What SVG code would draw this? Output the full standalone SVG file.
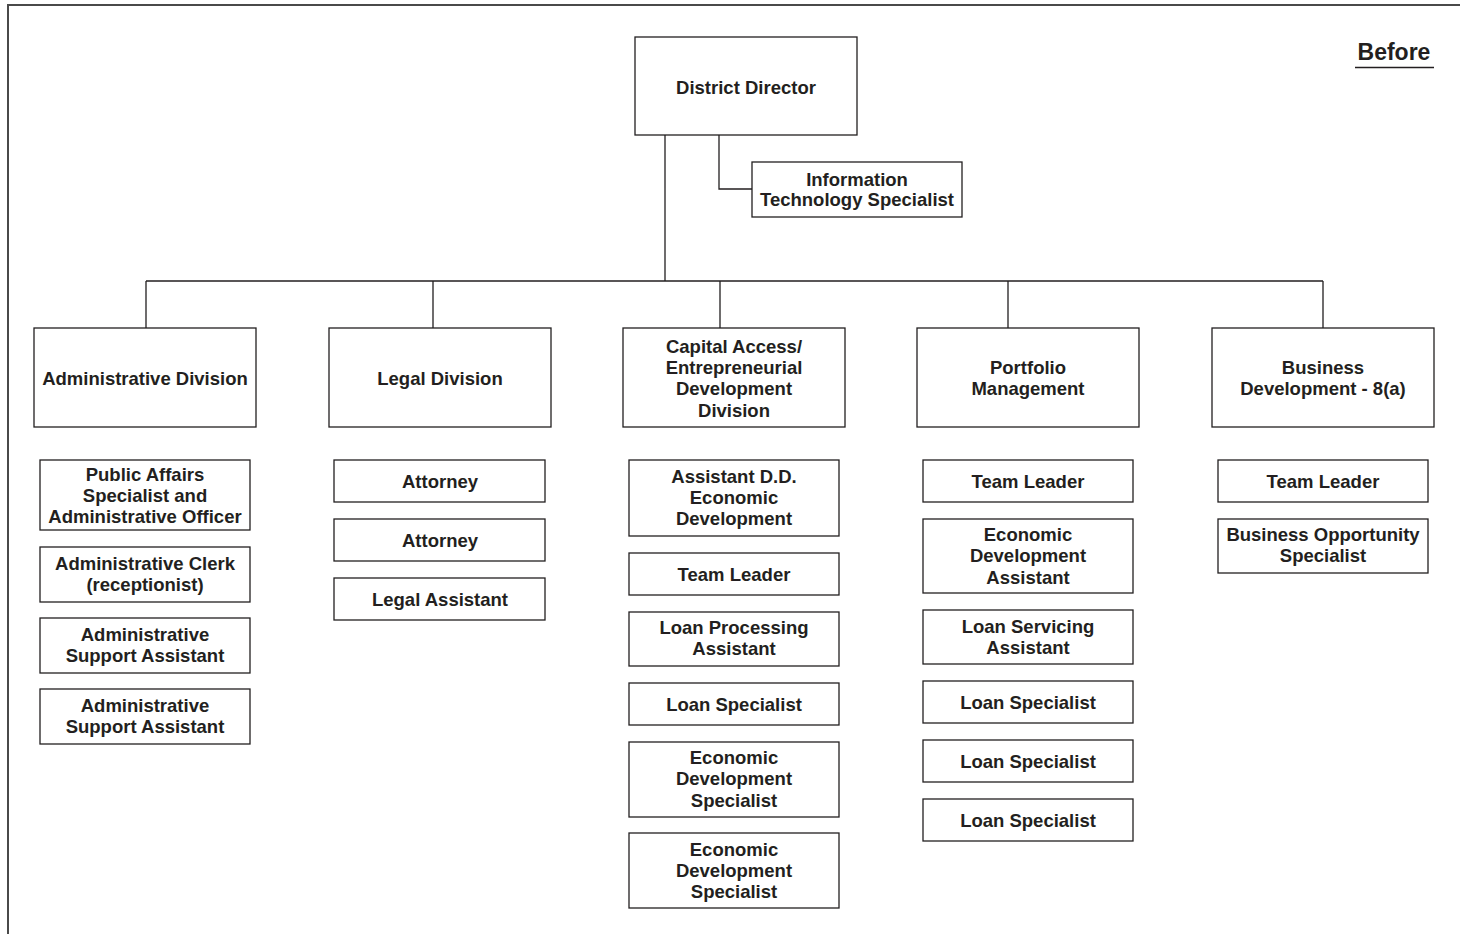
<svg xmlns="http://www.w3.org/2000/svg" width="1468" height="934" viewBox="0 0 1468 934">
<style>
.box{fill:#fff;stroke:#231f20;stroke-width:1.3}
.ln{fill:none;stroke:#231f20;stroke-width:1.3}
text{font-family:"Liberation Sans",Arial,sans-serif;font-weight:bold;font-size:18.5px;fill:#231f20;text-anchor:middle}
</style>
<rect width="1468" height="934" fill="#fff"/>
<g id="frame"><path d="M8,934 V5 H1460" fill="none" stroke="#4a4a4a" stroke-width="2"/></g>
<g id="title"><text x="1394" y="60" style="font-size:23px">Before</text><line x1="1355" y1="67.5" x2="1434" y2="67.5" stroke="#231f20" stroke-width="1.5"/></g>
<g id="connectors">
<path class="ln" d="M665,135 V281 M146,281 H1323 M146,281 V328 M433,281 V328 M720,281 V328 M1008,281 V328 M1323,281 V328 M719,135 V189 H752"/>
</g>
<g id="district-director"><rect class="box" x="635" y="37" width="222" height="98"/><text x="746" y="93.5">District Director</text></g>
<g id="it-specialist"><rect class="box" x="752" y="162" width="210" height="55"/><text x="857" y="185.5">Information</text><text x="857" y="206">Technology Specialist</text></g>
<g id="admin-division"><rect class="box" x="34" y="328" width="222" height="99"/><text x="145" y="384.5">Administrative Division</text></g>
<g id="legal-division"><rect class="box" x="329" y="328" width="222" height="99"/><text x="440" y="384.5">Legal Division</text></g>
<g id="capital-division"><rect class="box" x="623" y="328" width="222" height="99"/><text x="734" y="352.5">Capital Access/</text><text x="734" y="373.5">Entrepreneurial</text><text x="734" y="395">Development</text><text x="734" y="416.5">Division</text></g>
<g id="portfolio-division"><rect class="box" x="917" y="328" width="222" height="99"/><text x="1028" y="373.5">Portfolio</text><text x="1028" y="395">Management</text></g>
<g id="business-division"><rect class="box" x="1212" y="328" width="222" height="99"/><text x="1323" y="373.5">Business</text><text x="1323" y="395">Development - 8(a)</text></g>
<g id="admin-1"><rect class="box" x="40" y="460" width="210" height="70"/><text x="145" y="480.5">Public Affairs</text><text x="145" y="501.5">Specialist and</text><text x="145" y="523">Administrative Officer</text></g>
<g id="admin-2"><rect class="box" x="40" y="547" width="210" height="55"/><text x="145" y="569.5">Administrative Clerk</text><text x="145" y="590.5">(receptionist)</text></g>
<g id="admin-3"><rect class="box" x="40" y="618" width="210" height="55"/><text x="145" y="640.5">Administrative</text><text x="145" y="662">Support Assistant</text></g>
<g id="admin-4"><rect class="box" x="40" y="689" width="210" height="55"/><text x="145" y="711.5">Administrative</text><text x="145" y="733">Support Assistant</text></g>
<g id="legal-1"><rect class="box" x="334" y="460" width="211" height="42"/><text x="440" y="487.5">Attorney</text></g>
<g id="legal-2"><rect class="box" x="334" y="519" width="211" height="42"/><text x="440" y="546.5">Attorney</text></g>
<g id="legal-3"><rect class="box" x="334" y="578" width="211" height="42"/><text x="440" y="605.5">Legal Assistant</text></g>
<g id="capital-1"><rect class="box" x="629" y="460" width="210" height="76"/><text x="734" y="482.5">Assistant D.D.</text><text x="734" y="503.5">Economic</text><text x="734" y="525">Development</text></g>
<g id="capital-2"><rect class="box" x="629" y="553" width="210" height="42"/><text x="734" y="580.5">Team Leader</text></g>
<g id="capital-3"><rect class="box" x="629" y="612" width="210" height="54"/><text x="734" y="633.5">Loan Processing</text><text x="734" y="655">Assistant</text></g>
<g id="capital-4"><rect class="box" x="629" y="683" width="210" height="42"/><text x="734" y="710.5">Loan Specialist</text></g>
<g id="capital-5"><rect class="box" x="629" y="742" width="210" height="75"/><text x="734" y="763.5">Economic</text><text x="734" y="785">Development</text><text x="734" y="806.5">Specialist</text></g>
<g id="capital-6"><rect class="box" x="629" y="833" width="210" height="75"/><text x="734" y="855.5">Economic</text><text x="734" y="876.5">Development</text><text x="734" y="898">Specialist</text></g>
<g id="portfolio-1"><rect class="box" x="923" y="460" width="210" height="42"/><text x="1028" y="487.5">Team Leader</text></g>
<g id="portfolio-2"><rect class="box" x="923" y="519" width="210" height="74"/><text x="1028" y="540.5">Economic</text><text x="1028" y="562">Development</text><text x="1028" y="583.5">Assistant</text></g>
<g id="portfolio-3"><rect class="box" x="923" y="610" width="210" height="54"/><text x="1028" y="632.5">Loan Servicing</text><text x="1028" y="653.5">Assistant</text></g>
<g id="portfolio-4"><rect class="box" x="923" y="681" width="210" height="42"/><text x="1028" y="708.5">Loan Specialist</text></g>
<g id="portfolio-5"><rect class="box" x="923" y="740" width="210" height="42"/><text x="1028" y="767.5">Loan Specialist</text></g>
<g id="portfolio-6"><rect class="box" x="923" y="799" width="210" height="42"/><text x="1028" y="826.5">Loan Specialist</text></g>
<g id="business-1"><rect class="box" x="1218" y="460" width="210" height="42"/><text x="1323" y="487.5">Team Leader</text></g>
<g id="business-2"><rect class="box" x="1218" y="519" width="210" height="54"/><text x="1323" y="540.5">Business Opportunity</text><text x="1323" y="562">Specialist</text></g>
</svg>
